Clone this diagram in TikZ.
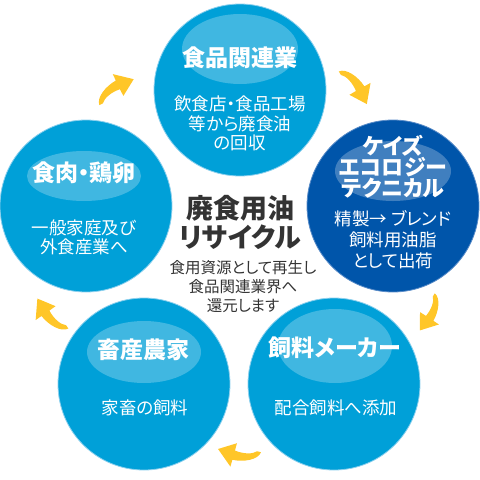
\documentclass[tikz,border=0pt]{standalone}
\usepackage{fontspec}
\newfontfamily\jp{Noto Sans CJK JP}[RawFeature=+palt]
\usetikzlibrary{arrows.meta}
\definecolor{lblue}{RGB}{0,160,216}
\definecolor{dblue}{RGB}{0,85,170}
\definecolor{arr}{RGB}{255,198,40}
\definecolor{dgray}{RGB}{51,51,51}
\definecolor{rimL}{RGB}{140,208,238}
\definecolor{rimD}{RGB}{90,140,200}
\lineskiplimit=-30pt
\tikzset{
  bubble/.style={circle, minimum size=172pt, inner sep=0pt, line width=0.8pt},
  lightbub/.style={bubble, fill=lblue, draw=rimL},
  darkbub/.style={bubble, fill=dblue, draw=rimD},
  gloss/.style={fill=white, fill opacity=0.25},
  ttl/.style={text=white, font=\jp\bfseries\fontsize{23}{21}\selectfont, align=center, inner sep=0pt},
  sub/.style={text=white, font=\jp\fontsize{17.5}{19.5}\selectfont, align=center, inner sep=0pt},
  ctitle/.style={text=dgray, font=\jp\bfseries\fontsize{27}{29}\selectfont, align=center, inner sep=0pt},
  csub/.style={text=dgray, font=\jp\fontsize{15.5}{19}\selectfont, align=center, inner sep=0pt},
  cyc/.pic={\fill[arr] (-2,0) .. controls (0,-8) and (14,-12) .. (25.5,-11) -- (26.6,-18) -- (41,-2) -- (23,6) -- (24,-1.5) .. controls (15,-4) and (6,-3) .. (2,0.5) -- cycle;}
}
\begin{document}
\begin{tikzpicture}[x=1pt,y=-1pt]
\useasboundingbox (0,0) rectangle (480,480);
% circles
\node[lightbub] (food) at (240,90) {};
\node[darkbub] (keis) at (393,206) {};
\node[lightbub] (meat) at (86,206) {};
\node[lightbub] (farm) at (144,384) {};
\node[lightbub] (feed) at (334,384) {};
% gloss ellipses
\fill[gloss] (240,49) ellipse [x radius=58, y radius=35];
\fill[gloss] (393,171) ellipse [x radius=58, y radius=30];
\fill[gloss] (84,176) ellipse [x radius=57, y radius=25];
\fill[gloss] (144,352) ellipse [x radius=57, y radius=31];
\fill[gloss] (335,346) ellipse [x radius=57, y radius=37];
% texts
\node[ttl] (foodT) at (240,58) {食品関連業};
\node[sub] (foodS) at (240,123.5) {飲食店・食品工場\\等から廃食油\\の回収};
\node[ttl, font=\jp\bfseries\fontsize{22}{21}\selectfont] (keisT) at (393,167) {ケイズ\\エコロジー\\テクニカル};
\node[sub, font=\jp\fontsize{17.5}{21}\selectfont] (keisS) at (393,240) {精製→ ブレンド\\飼料用油脂\\として出荷};
\node[ttl] (meatT) at (84,173) {食肉・鶏卵};
\node[sub, font=\jp\fontsize{17.5}{19}\selectfont] (meatS) at (84,237.5) {一般家庭及び\\外食産業へ};
\node[ttl] (farmT) at (143,350) {畜産農家};
\node[sub] (farmS) at (145,408) {家畜の飼料};
\node[ttl] (feedT) at (335,348) {飼料メーカー};
\node[sub] (feedS) at (336,408) {配合飼料へ添加};
\node[ctitle] (cT) at (240,222.5) {廃食用油\\リサイクル};
\node[csub] (cS) at (243,287) {食用資源として再生し\\食品関連業界へ\\還元します};
% cycle arrows
\pic[rotate=34.4] at (101,104) {cyc};
\pic[rotate=-52] at (340,73) {cyc};
\pic[rotate=-114.6, scale=0.93] at (434,295) {cyc};
\pic[rotate=-187] at (259,452) {cyc};
\pic[rotate=-226.6] at (67,327) {cyc};
\end{tikzpicture}
\end{document}
